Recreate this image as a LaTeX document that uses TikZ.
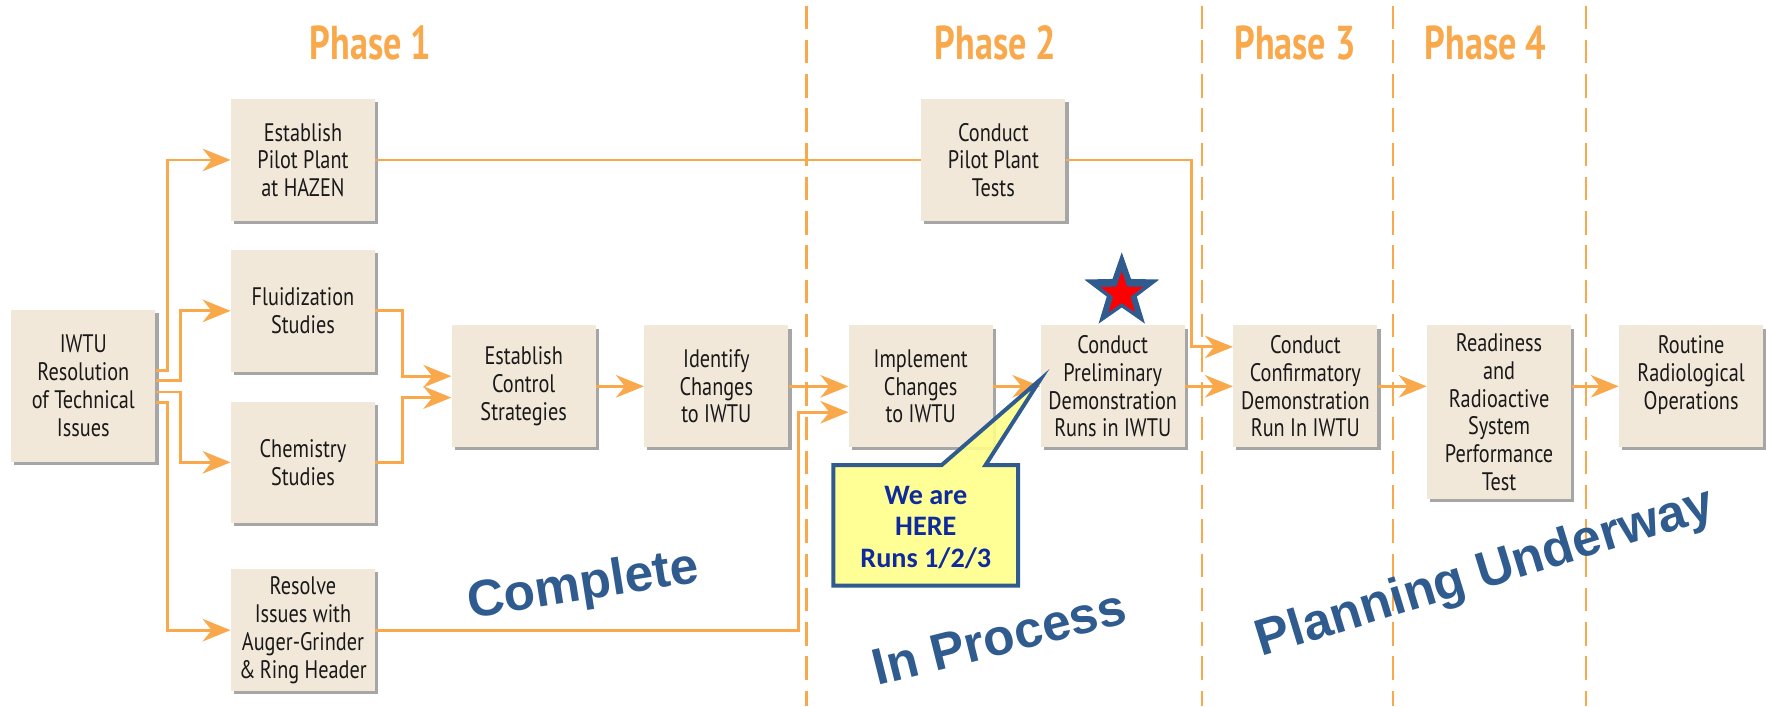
\documentclass[tikz,border=0pt]{standalone}
\usepackage{fontspec}
\usetikzlibrary{arrows.meta,shapes.geometric,shadows,calc}

\newfontfamily\boxfont{PT Sans}[FakeStretch=0.8]
\newfontfamily\phasefont{PT Sans}[FakeStretch=0.76]
\newfontfamily\bigfont{Liberation Sans}
\newfontfamily\callfont{Carlito}

\definecolor{arr}{HTML}{F9A94B}
\definecolor{boxfill}{HTML}{F2E8DA}
\definecolor{statusblue}{HTML}{2F5B8F}
\definecolor{calloutfill}{HTML}{FFFF88}
\definecolor{callouttext}{HTML}{0E2A9E}
\definecolor{starred}{HTML}{FF0000}

\tikzset{
  stepbox/.style={fill=boxfill, minimum width=3.2cm, minimum height=2.7cm,
    inner sep=0pt, align=center, text=black!90,
    font=\boxfont\fontsize{16}{17.5}\selectfont,
    drop shadow={shadow xshift=0.07cm, shadow yshift=-0.07cm, fill=black, opacity=0.35}},
  flow/.style={draw=arr, line width=1.8pt,
    -{Stealth[length=0.62cm, width=0.5cm, inset=0.2cm]}},
  link/.style={draw=arr, line width=1.8pt},
  phaseline/.style={draw=arr, line width=1.4pt, dash pattern=on 0.52cm off 0.24cm},
  phaselabel/.style={text=arr, anchor=base,
    font=\phasefont\bfseries\fontsize{30}{30}\selectfont},
  status/.style={text=statusblue,
    font=\bigfont\bfseries\fontsize{32.4}{34}\selectfont},
}

\begin{document}
\begin{tikzpicture}[x=0.025cm, y=-0.025cm]
\useasboundingbox (0,0) rectangle (1568,627);
\fill[white] (0,0) rectangle (1568,627);

% phase separators
\foreach \xx in {716,1067,1237,1408}
  \draw[phaseline] (\xx,5) -- (\xx,627);

% phase titles
\node[phaselabel] (ph1) at (329,53) {Phase 1};
\node[phaselabel] (ph2) at (884,53) {Phase 2};
\node[phaselabel] (ph3) at (1150,53) {Phase 3};
\node[phaselabel] (ph4) at (1319,53) {Phase 4};

% process steps
\node[stepbox, minimum height=3.375cm] (iwtu) at (74,342.5) {IWTU\\Resolution\\of Technical\\Issues};
\node[stepbox] (hazen) at (269,142) {Establish\\Pilot Plant\\at HAZEN};
\node[stepbox] (fluid) at (269,276) {Fluidization\\Studies};
\node[stepbox] (chem) at (269,410.5) {Chemistry\\Studies};
\node[stepbox] (resolve) at (269,559.5) {Resolve\\Issues with\\Auger-Grinder\\\&\,Ring Header};
\node[stepbox] (control) at (465,343) {Establish\\Control\\Strategies};
\node[stepbox] (identify) at (636,343) {Identify\\Changes\\to IWTU};
\node[stepbox] (implement) at (817.5,343) {Implement\\Changes\\to IWTU};
\node[stepbox] (prelim) at (988,343) {Conduct\\Preliminary\\Demonstration\\Runs in IWTU};
\node[stepbox] (pilot) at (882,142) {Conduct\\Pilot Plant\\Tests};
\node[stepbox] (confirm) at (1159,343) {Conduct\\Confirmatory\\Demonstration\\Run In IWTU};
\node[stepbox, minimum height=3.85cm] (readiness) at (1331,366) {Readiness\\and\\Radioactive\\System\\Performance\\Test};
\node[stepbox] (routine) at (1501.5,343) {Routine\\Radiological\\Operations\\\mbox{}};

% connectors
\draw[flow] (iwtu.east|-0,329) -- (149,329) |- (hazen.west);
\draw[flow] (iwtu.east|-0,338) -- (160,338) |- (fluid.west);
\draw[flow] (iwtu.east|-0,348) -- (160,348) |- (chem.west);
\draw[flow] (iwtu.east|-0,357) -- (149,357) |- (resolve.west);
\draw[flow] (fluid.east) -| (357,334) -- (control.west|-0,334);
\draw[flow] (chem.east) -| (357,353) -- (control.west|-0,353);
\draw[flow] (control.east) -- (identify.west);
\draw[flow] (identify.east) -- (implement.west);
\draw[flow] (resolve.east) -| (709,366) -- (implement.west|-0,366);
\draw[flow] (implement.east) -- (prelim.west);
\draw[link] (hazen.east) -- (pilot.west);
\draw[flow] (pilot.east) -| (1058,308) -- (confirm.west|-0,308);
\draw[flow] (prelim.east) -- (confirm.west);
\draw[flow] (confirm.east) -- (confirm.east-|readiness.west);
\draw[flow] (readiness.east|-routine.west) -- (routine.west);

% current position marker
\node[star, star points=5, star point ratio=2.5, minimum size=1.75cm, inner sep=0pt,
      fill=statusblue] (star) at (996,259) {};
\node[star, star points=5, star point ratio=2.5, minimum size=1.0cm, inner sep=0pt,
      fill=starred] (starin) at (996,261) {};

% callout
\coordinate (tip) at (prelim.west|-0,337);
\filldraw[fill=calloutfill, fill opacity=0.88, draw=statusblue, line width=2.5pt, line join=miter]
  (740,413) -- (836,413) -- (tip) -- (875,413) -- (904,413) -- (904,520) -- (740,520) -- cycle;
\node[text=callouttext, align=center, font=\callfont\bfseries\fontsize{17.8}{19.9}\selectfont]
  (here) at (822,468) {We are\\HERE\\Runs 1/2/3};

% status labels
\node[status, rotate=9] (complete) at (518,521) {Complete};
\node[status, rotate=14] (inprocess) at (887,566) {In Process};
\node[status, rotate=17] (planning) at (1319,510) {Planning Underway};
\end{tikzpicture}
\end{document}
